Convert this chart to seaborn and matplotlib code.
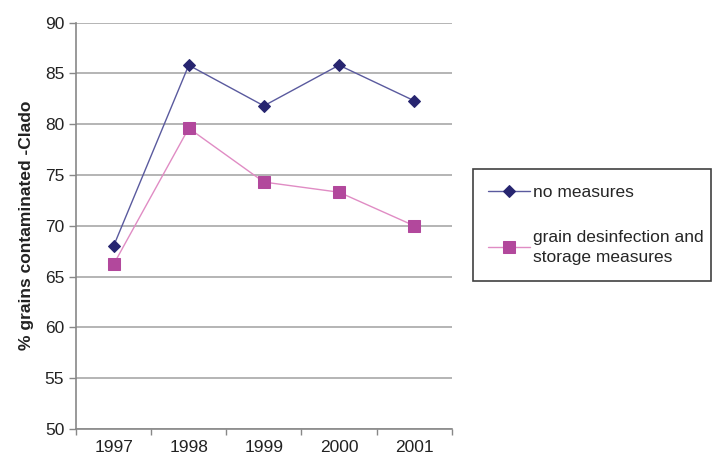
import matplotlib
matplotlib.use("Agg")
import matplotlib.pyplot as plt
import seaborn as sns
import pandas as pd
import numpy as np

years = ["1997", "1998", "1999", "2000", "2001"]
no_measures = [68.0, 85.8, 81.8, 85.8, 82.3]
grain_measures = [66.2, 79.6, 74.3, 73.3, 70.0]
series_names = ["no measures", "grain desinfection and\nstorage measures"]

df = pd.DataFrame({
    "pos": list(range(len(years))) * 2,
    "value": no_measures + grain_measures,
    "series": [series_names[0]] * len(years) + [series_names[1]] * len(years),
})

sns.set_theme(style="white")
plt.rcParams["font.family"] = ["Liberation Sans", "DejaVu Sans"]

fig = plt.figure(figsize=(7.13, 4.65), dpi=100)
ax = fig.add_axes([0.1066, 0.0774, 0.527, 0.8742])

line_colors = {series_names[0]: "#5a5a9e", series_names[1]: "#e08cc4"}
marker_colors = {series_names[0]: "#272570", series_names[1]: "#b2489c"}
marker_styles = {series_names[0]: "D", series_names[1]: "s"}
marker_sizes = {series_names[0]: 6, series_names[1]: 8}

for name in series_names:
    sub = df[df["series"] == name]
    sns.lineplot(data=sub, x="pos", y="value", ax=ax, color=line_colors[name],
                 linewidth=1.0, marker=marker_styles[name],
                 markersize=marker_sizes[name],
                 markerfacecolor=marker_colors[name],
                 markeredgecolor=marker_colors[name], label=name, legend=False)

ax.set_xlim(-0.5, len(years) - 0.5)
ax.set_ylim(50, 90)
ax.set_yticks(np.arange(50, 91, 5))
ax.set_xticks(range(len(years)))
ax.set_xticklabels(years)
ax.set_xticks(np.arange(-0.5, len(years), 1.0), minor=True)
ax.tick_params(axis="x", which="major", length=0, pad=8, labelsize=12.5, colors="#222222")
ax.tick_params(axis="x", which="minor", length=4, color="#888888", width=1, direction="out", bottom=True)
ax.tick_params(axis="y", length=5, color="#888888", width=1, labelsize=12.5, colors="#222222", left=True)
ax.yaxis.grid(True, color="#a8a8a8", linewidth=1.2)
ax.set_axisbelow(True)
for s in ["top", "right"]:
    ax.spines[s].set_visible(False)
for s in ["left", "bottom"]:
    ax.spines[s].set_color("#888888")
    ax.spines[s].set_linewidth(1.2)

ax.set_xlabel("")
ax.set_ylabel("% grains contaminated -Clado", fontsize=12.5, fontweight="bold", color="#222222", labelpad=8)

handles, labels = ax.get_legend_handles_labels()
leg = fig.legend(handles, labels, loc="upper left", bbox_to_anchor=(0.663, 0.636, 0.334, 0.0),
                 mode="expand", frameon=True, fancybox=False, fontsize=12.5, handlelength=2.4,
                 labelspacing=1.7, borderpad=0.9, handletextpad=0.2, borderaxespad=0.0)
for t in leg.get_texts():
    t.set_linespacing(1.45)
leg.get_frame().set_edgecolor("#111111")
leg.get_frame().set_linewidth(1.2)

fig.savefig("out.png", dpi=100)
